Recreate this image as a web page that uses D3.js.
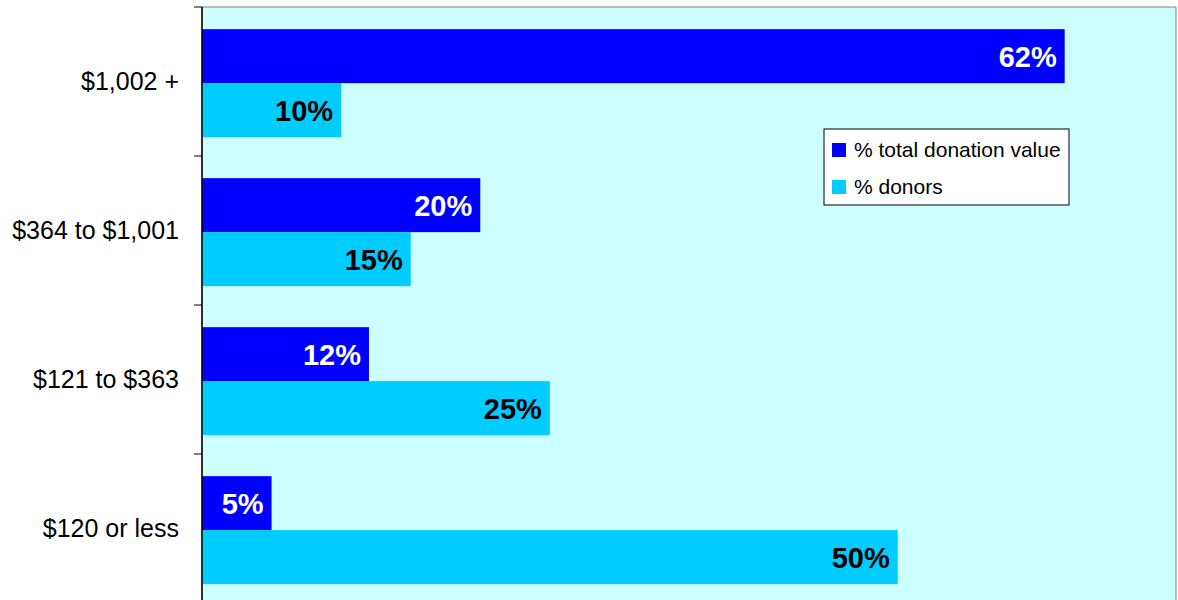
<!DOCTYPE html>
<html>
<head>
<meta charset="utf-8">
<script src="https://cdn.jsdelivr.net/npm/d3@7"></script>
<style>
  body { margin: 0; background: #ffffff; }
  svg { display: block; font-family: Arial, "Liberation Sans", sans-serif; }
</style>
</head>
<body>
<div id="chart"></div>
<script>
// data
var categories = ["$1,002 +", "$364 to $1,001", "$121 to $363", "$120 or less"];
var seriesNames = ["% total donation value", "% donors"];
var totalValue = [0.62, 0.20, 0.12, 0.05];
var donors = [0.10, 0.15, 0.25, 0.50];
var colors = ["#0000FF", "#00CCFF"];
var labelColors = ["#FFFFFF", "#000000"];

var outerWidth = 1178;
var outerHeight = 600;
var margin = { left: 202, top: 7, right: 2, bottom: -3 };
var innerWidth = outerWidth - margin.left - margin.right;
var innerHeight = outerHeight - margin.top - margin.bottom;

var rows = categories.map(function (c, i) {
    return { cat: c, values: [totalValue[i], donors[i]] };
});

var svg = d3.select("#chart").append("svg")
    .attr("width", outerWidth)
    .attr("height", outerHeight);

var g = svg.append("g")
    .attr("transform", "translate(" + margin.left + "," + margin.top + ")");

// scales
var x = d3.scaleLinear()
    .domain([0, 0.7])
    .range([0, innerWidth]);

var y0 = d3.scaleBand()
    .domain(categories)
    .range([0, innerHeight]);

var y1 = d3.scaleBand()
    .domain([0, 1])
    .range([0, y0.bandwidth()])
    .paddingOuter(0.38)
    .align(0.54);

// plot background + border
g.append("rect")
    .attr("x", 0)
    .attr("y", 0)
    .attr("width", innerWidth)
    .attr("height", innerHeight)
    .attr("fill", "#CCFFFF")
    .attr("stroke", "#808080")
    .attr("stroke-width", 1);

// bars
var groups = g.selectAll(".cat")
    .data(rows)
    .enter()
    .append("g")
    .attr("class", "cat")
    .attr("transform", function (d) { return "translate(0," + y0(d.cat) + ")"; });

groups.selectAll("rect")
    .data(function (d) { return d.values; })
    .enter()
    .append("rect")
    .attr("x", x(0))
    .attr("y", function (d, i) { return y1(i); })
    .attr("width", function (d) { return x(d) - x(0); })
    .attr("height", y1.bandwidth())
    .attr("fill", function (d, i) { return colors[i]; });

groups.selectAll("text")
    .data(function (d) { return d.values; })
    .enter()
    .append("text")
    .attr("x", function (d) { return x(d) - 8; })
    .attr("y", function (d, i) { return y1(i) + y1.bandwidth() / 2 + 1; })
    .attr("dy", "0.35em")
    .attr("text-anchor", "end")
    .attr("font-size", "29px")
    .attr("font-weight", "bold")
    .attr("fill", function (d, i) { return labelColors[i]; })
    .text(function (d) { return Math.round(d * 100) + "%"; });

// y axis (labels at band centres, ticks at band edges)
var yAxis = g.append("g")
    .call(d3.axisLeft(y0).tickSize(0).tickPadding(23));
yAxis.select(".domain").remove();
yAxis.selectAll("text")
    .attr("font-size", "25px")
    .attr("font-family", "Arial, 'Liberation Sans', sans-serif")
    .attr("fill", "#000000");

var edges = categories.map(function (c) { return y0(c); }).concat([innerHeight]);
g.selectAll(".edgeTick")
    .data(edges)
    .enter()
    .append("line")
    .attr("class", "edgeTick")
    .attr("x1", -8)
    .attr("x2", 0)
    .attr("y1", function (d) { return d; })
    .attr("y2", function (d) { return d; })
    .attr("stroke", "#000000")
    .attr("stroke-width", 1);

g.append("line")
    .attr("x1", 0).attr("x2", 0)
    .attr("y1", 0).attr("y2", innerHeight)
    .attr("stroke", "#000000")
    .attr("stroke-width", 1.5);

// legend
var legend = svg.append("g")
    .attr("transform", "translate(824,129)");

legend.append("rect")
    .attr("width", 245)
    .attr("height", 76)
    .attr("fill", "#FFFFFF")
    .attr("stroke", "#000000")
    .attr("stroke-width", 1);

var items = legend.selectAll(".item")
    .data(seriesNames)
    .enter()
    .append("g")
    .attr("class", "item")
    .attr("transform", function (d, i) { return "translate(8," + (14 + i * 37) + ")"; });

items.append("rect")
    .attr("width", 14)
    .attr("height", 14)
    .attr("fill", function (d, i) { return colors[i]; });

items.append("text")
    .attr("x", 22)
    .attr("y", 14)
    .attr("font-size", "21px")
    .attr("fill", "#000000")
    .text(function (d) { return d; });
</script>
</body>
</html>
